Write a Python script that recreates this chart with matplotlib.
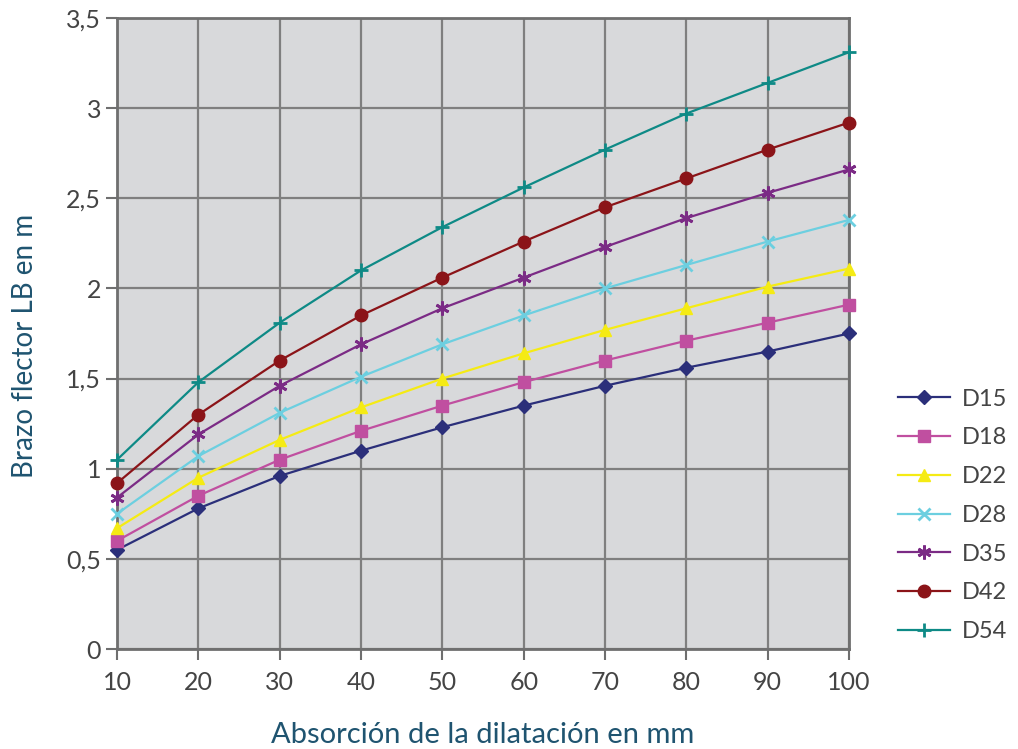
import matplotlib.pyplot as plt

# Absorción de la dilatación (mm)
absorcion = [10, 20, 30, 40, 50, 60, 70, 80, 90, 100]

# Brazo flector LB (m) por diámetro
d15 = [0.55, 0.78, 0.96, 1.10, 1.23, 1.35, 1.46, 1.56, 1.65, 1.75]
d18 = [0.60, 0.85, 1.05, 1.21, 1.35, 1.48, 1.60, 1.71, 1.81, 1.91]
d22 = [0.67, 0.95, 1.16, 1.34, 1.50, 1.64, 1.77, 1.89, 2.01, 2.11]
d28 = [0.75, 1.07, 1.31, 1.51, 1.69, 1.85, 2.00, 2.13, 2.26, 2.38]
d35 = [0.84, 1.19, 1.46, 1.69, 1.89, 2.06, 2.23, 2.39, 2.53, 2.66]
d42 = [0.92, 1.30, 1.60, 1.85, 2.06, 2.26, 2.45, 2.61, 2.77, 2.92]
d54 = [1.05, 1.48, 1.81, 2.10, 2.34, 2.56, 2.77, 2.97, 3.14, 3.31]

series = [
    ("D15", d15, "#2b2f7a", "D", 7),
    ("D18", d18, "#c04fa0", "s", 8),
    ("D22", d22, "#f5eb14", "^", 9),
    ("D28", d28, "#6ccfe0", "x", 9),
    ("D35", d35, "#7b2b85", (6, 2, 0), 10),
    ("D42", d42, "#8b1418", "o", 9),
    ("D54", d54, "#0e8a86", "+", 10),
]

plt.rcParams["font.family"] = ["Lato", "DejaVu Sans"]

fig = plt.figure(figsize=(10.18, 7.49), dpi=100)
ax = fig.add_axes([0.115, 0.1335, 0.719, 0.8425])
ax.set_facecolor("#d8d9db")

for nombre, valores, color, marcador, tam in series:
    ax.plot(absorcion, valores, color=color, marker=marcador, markersize=tam,
            linewidth=1.6, markeredgewidth=2 if marcador in ("x", "+", (6, 2, 0)) else 1,
            label=nombre, clip_on=False, zorder=3)

ax.set_xlim(10, 100)
ax.set_ylim(0, 3.5)
ax.set_xticks(absorcion)
yt = [0, 0.5, 1, 1.5, 2, 2.5, 3, 3.5]
ax.set_yticks(yt)
ax.set_yticklabels(["0", "0,5", "1", "1,5", "2", "2,5", "3", "3,5"])
ax.grid(True, color="#7f7f7f", linewidth=1.6, zorder=1)
ax.set_axisbelow(True)
for s in ax.spines.values():
    s.set_color("#6f6f6f")
    s.set_linewidth(2)
ax.tick_params(axis="both", colors="#6f6f6f", labelcolor="#444444", labelsize=18,
               length=8, width=1.5, direction="out")
ax.tick_params(axis="x", pad=8)

ax.set_xlabel("Absorción de la dilatación en mm", fontsize=21, color="#1f5470", labelpad=20)
ax.set_ylabel("Brazo flector LB en m", fontsize=20, color="#1f5470", labelpad=20)
ax.yaxis.label.set_y(0.48)

fig.legend(loc="center left", bbox_to_anchor=(0.861, 0.312), frameon=False,
           fontsize=17, labelcolor="#444444", handlelength=2.2, labelspacing=0.75,
           handletextpad=0.5)

fig.savefig("out.png", dpi=100)
